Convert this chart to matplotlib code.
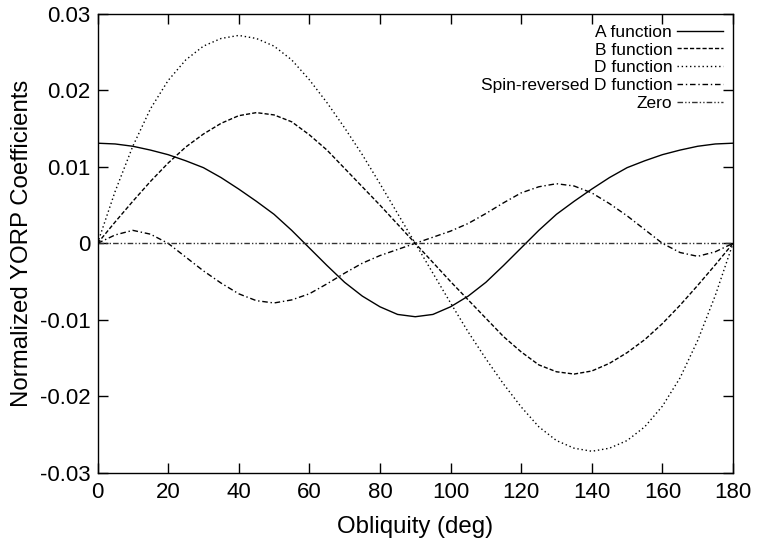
import matplotlib
matplotlib.use("Agg")
import matplotlib.pyplot as plt

# obliquity grid (deg) and coefficients
obliquity = [0, 5, 10, 15, 20, 25, 30, 35, 40, 45, 50, 55, 60, 65, 70, 75, 80, 85, 90,
             95, 100, 105, 110, 115, 120, 125, 130, 135, 140, 145, 150, 155, 160, 165, 170, 175, 180]

a_func = [0.0131, 0.0130, 0.0127, 0.0122, 0.0116, 0.0108, 0.0099, 0.0086, 0.0071, 0.0055,
          0.0038, 0.0017, -0.0006, -0.0029, -0.0051, -0.0069, -0.0083, -0.0093, -0.0096,
          -0.0093, -0.0083, -0.0069, -0.0051, -0.0029, -0.0006, 0.0017, 0.0038, 0.0055,
          0.0071, 0.0086, 0.0099, 0.0108, 0.0116, 0.0122, 0.0127, 0.0130, 0.0131]

b_func = [0, 0.0028, 0.0055, 0.0081, 0.0105, 0.0126, 0.0143, 0.0157, 0.0167, 0.0171,
          0.0168, 0.0159, 0.0142, 0.0122, 0.0098, 0.0074, 0.0050, 0.0025, 0,
          -0.0025, -0.0050, -0.0074, -0.0098, -0.0122, -0.0142, -0.0159, -0.0168, -0.0171,
          -0.0167, -0.0157, -0.0143, -0.0126, -0.0105, -0.0081, -0.0055, -0.0028, 0]

d_func = [0, 0.0068, 0.0127, 0.0176, 0.0213, 0.0240, 0.0258, 0.0268, 0.0272, 0.0268,
          0.0258, 0.0240, 0.0214, 0.0184, 0.0151, 0.0116, 0.0078, 0.0039, 0,
          -0.0039, -0.0078, -0.0116, -0.0151, -0.0184, -0.0214, -0.0240, -0.0258, -0.0268,
          -0.0272, -0.0268, -0.0258, -0.0240, -0.0213, -0.0176, -0.0127, -0.0068, 0]

srd_func = [0, 0.0011, 0.0017, 0.0012, 0, -0.0018, -0.0036, -0.0052, -0.0066, -0.0075,
            -0.0078, -0.0074, -0.0066, -0.0053, -0.0039, -0.0026, -0.0016, -0.0008, 0,
            0.0008, 0.0016, 0.0026, 0.0039, 0.0053, 0.0066, 0.0074, 0.0078, 0.0075,
            0.0066, 0.0052, 0.0036, 0.0018, 0, -0.0012, -0.0017, -0.0011, 0]

zero_line = [0] * len(obliquity)

x_ticks = [0, 20, 40, 60, 80, 100, 120, 140, 160, 180]
y_ticks = [-0.03, -0.02, -0.01, 0, 0.01, 0.02, 0.03]
y_tick_labels = ['-0.03', '-0.02', '-0.01', '0', '0.01', '0.02', '0.03']


def yorp_plot():
    plt.rcParams['font.family'] = ['Liberation Sans', 'DejaVu Sans']
    plt.rcParams['axes.unicode_minus'] = False

    fig = plt.figure(figsize=(7.57, 5.41), dpi=100)
    ax = fig.add_axes([0.1288, 0.1263, 0.8395, 0.8478])

    ax.plot(obliquity, a_func, color='black', lw=1.0, ls='-', label='A function')
    ax.plot(obliquity, b_func, color='black', lw=1.0, ls=(0, (3, 1.5)), label='B function')
    ax.plot(obliquity, d_func, color='black', lw=1.0, ls=(0, (1, 2)), label='D function')
    ax.plot(obliquity, srd_func, color='black', lw=1.0, ls=(0, (4, 2, 1, 2)),
            label='Spin-reversed D function')
    ax.plot(obliquity, zero_line, color='#333333', lw=1.0, ls=(0, (4, 1.5, 1, 1.5, 1, 1.5)),
            label='Zero')

    ax.set_xlim(0, 180)
    ax.set_ylim(-0.03, 0.03)
    ax.set_xticks(x_ticks)
    ax.set_yticks(y_ticks)
    ax.set_yticklabels(y_tick_labels)
    ax.tick_params(direction='in', length=7, width=1, top=True, right=True,
                   labelsize=16, color='black')
    ax.tick_params(axis='x', pad=7)
    ax.tick_params(axis='y', pad=5)
    for sp in ax.spines.values():
        sp.set_linewidth(1.0)

    ax.set_xlabel('Obliquity (deg)', fontsize=17.3, labelpad=9)
    ax.set_ylabel('Normalized YORP Coefficients', fontsize=17.3, labelpad=5)

    leg = ax.legend(loc='upper right', frameon=False, markerfirst=False, fontsize=12.5,
                    handlelength=2.6, handletextpad=0.3, labelspacing=0.16,
                    borderaxespad=0.4, borderpad=0.2)
    for t in leg.get_texts():
        t.set_ha('right')

    fig.savefig('out.png', dpi=100)


def main():
    yorp_plot()


if __name__ == "__main__":
    main()
